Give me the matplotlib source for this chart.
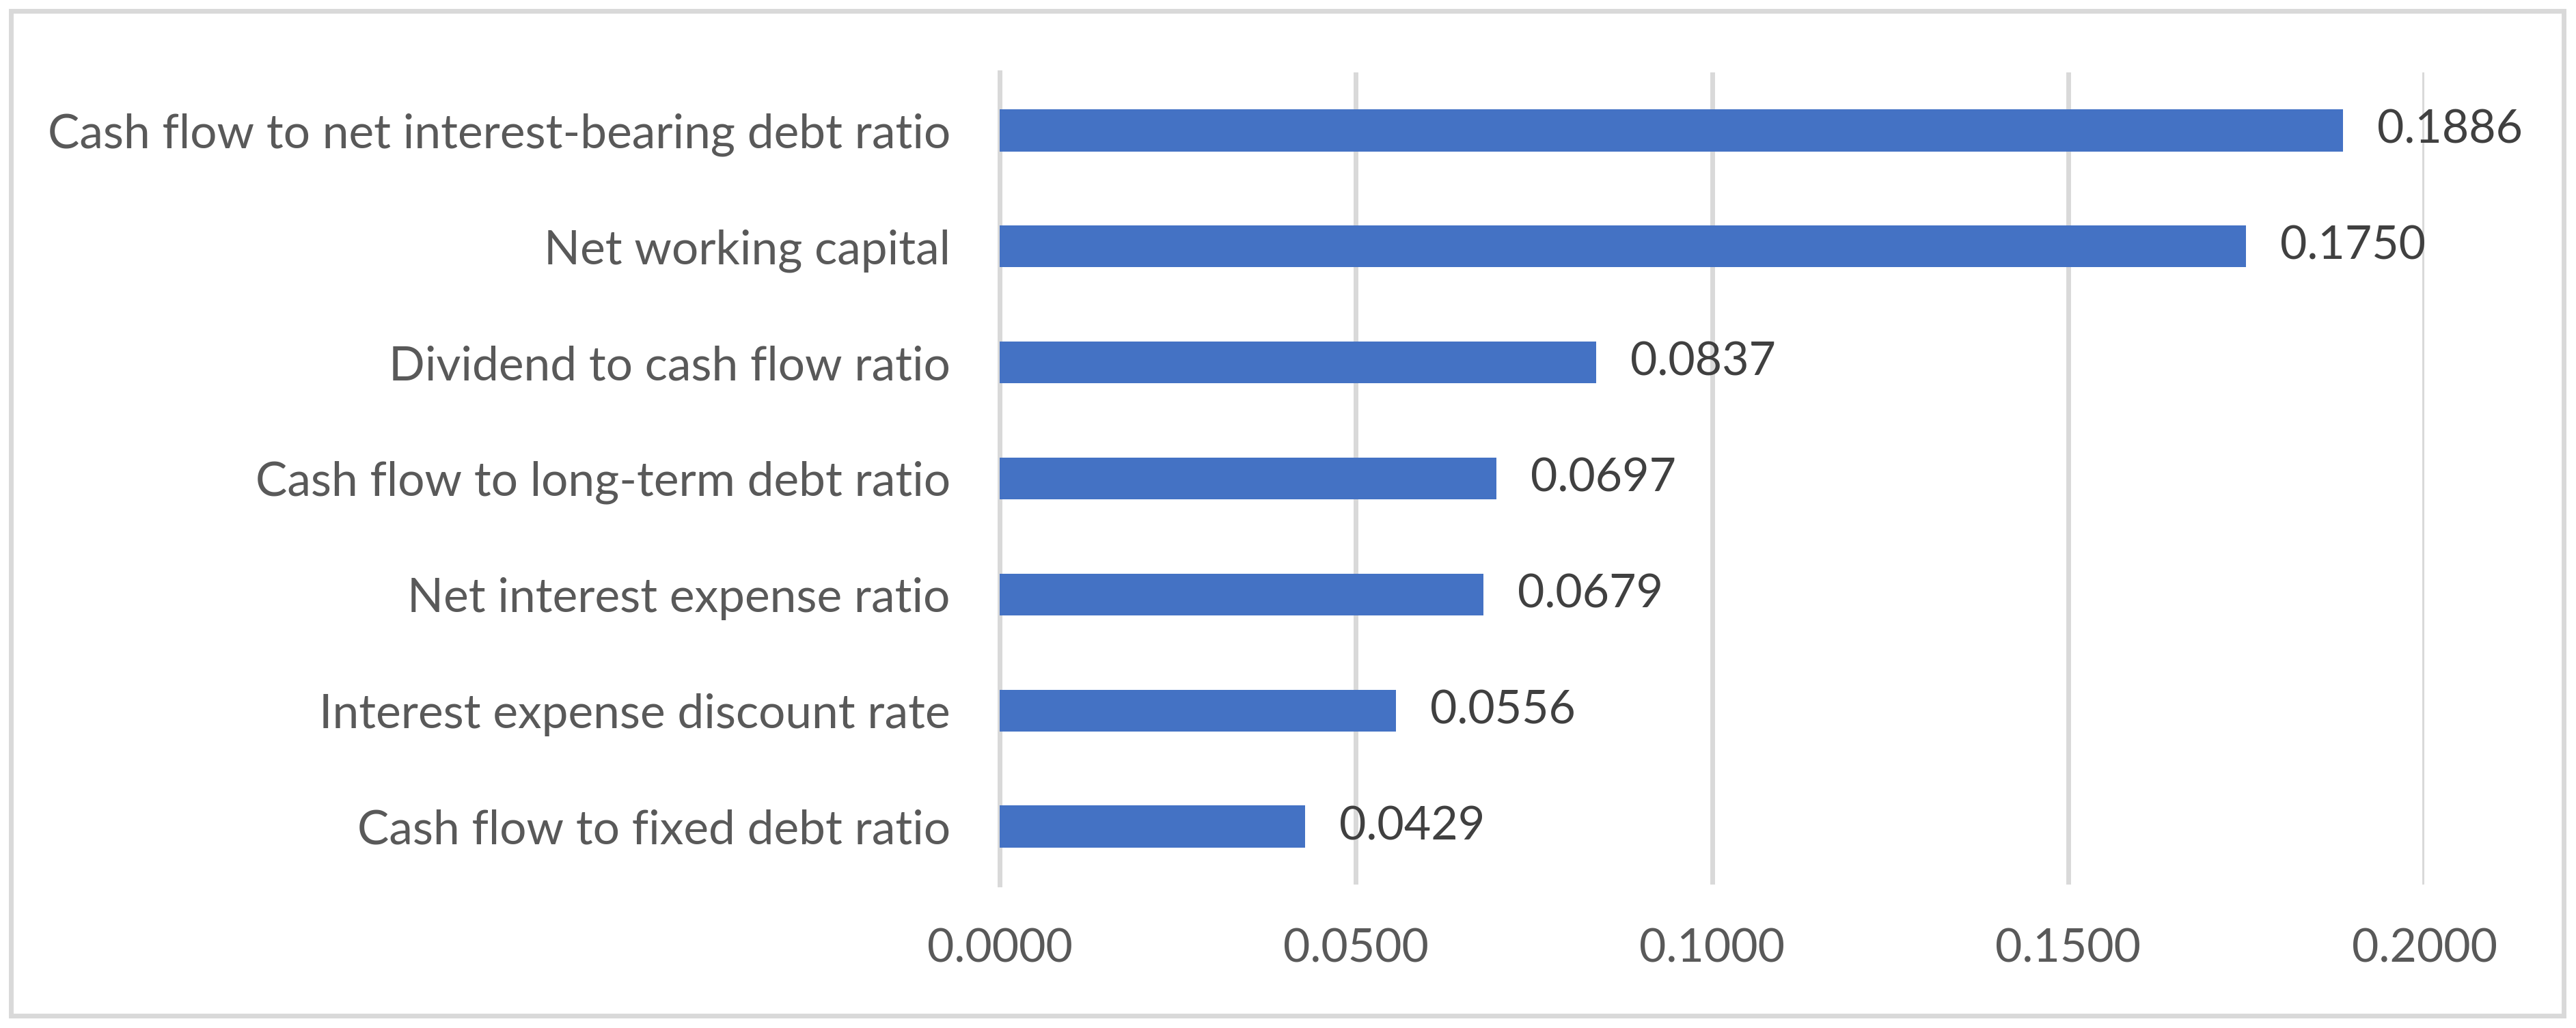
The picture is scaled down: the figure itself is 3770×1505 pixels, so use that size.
import matplotlib

matplotlib.use("Agg")
import matplotlib.pyplot as plt
from matplotlib.patches import Rectangle

# categories listed bottom -> top (barh draws index 0 at the bottom)
categories = [
    "Cash flow to fixed debt ratio",
    "Interest expense discount rate",
    "Net interest expense ratio",
    "Cash flow to long-term debt ratio",
    "Dividend to cash flow ratio",
    "Net working capital",
    "Cash flow to net interest-bearing debt ratio",
]
values = [0.0429, 0.0556, 0.0679, 0.0697, 0.0837, 0.1750, 0.1886]
x_ticks = [0.0, 0.05, 0.10, 0.15, 0.20]

BAR = "#4472C4"
GRID = "#D9D9D9"
LABEL = "#595959"
VALUE = "#404040"

plt.rcParams["font.family"] = ["Lato", "DejaVu Sans"]

W, H = 3770, 1505
fig = plt.figure(figsize=(W / 100, H / 100), dpi=100)
ax = fig.add_axes([1463 / W, 1 - 1295 / H, (3548 - 1463) / W, (1295 - 106) / H])

ypos = range(len(categories))
ax.barh(ypos, values, height=0.36, color=BAR, zorder=3)

ax.set_xlim(0, 0.2)
ax.set_ylim(-0.5, len(categories) - 0.5)
ax.set_xticks(x_ticks)
ax.set_xticklabels([f"{t:.4f}" for t in x_ticks])
ax.set_yticks(list(ypos))
ax.set_yticklabels(categories)

ax.grid(axis="x", color=GRID, lw=5, zorder=0)
ax.grid(axis="y", visible=False)
for side in ["top", "right", "bottom"]:
    ax.spines[side].set_visible(False)
ax.spines["left"].set_color(GRID)
ax.spines["left"].set_linewidth(5)

ax.tick_params(axis="y", length=0, pad=52, labelsize=50, labelcolor=LABEL)
ax.tick_params(axis="x", length=0, pad=46, labelsize=49, labelcolor=LABEL)

for y, v in zip(ypos, values):
    ax.annotate(f"{v:.4f}", (v, y), xytext=(36, 0), textcoords="offset points",
                va="center", ha="left", fontsize=49, color=VALUE)

# light grey frame round the whole chart
fig.patches.append(Rectangle((16 / W, 1 - 1487 / H), (3752 - 16) / W, (1487 - 16) / H,
                             transform=fig.transFigure, fill=False,
                             edgecolor=GRID, lw=5))

fig.savefig("out.png", dpi=100, facecolor="white")
